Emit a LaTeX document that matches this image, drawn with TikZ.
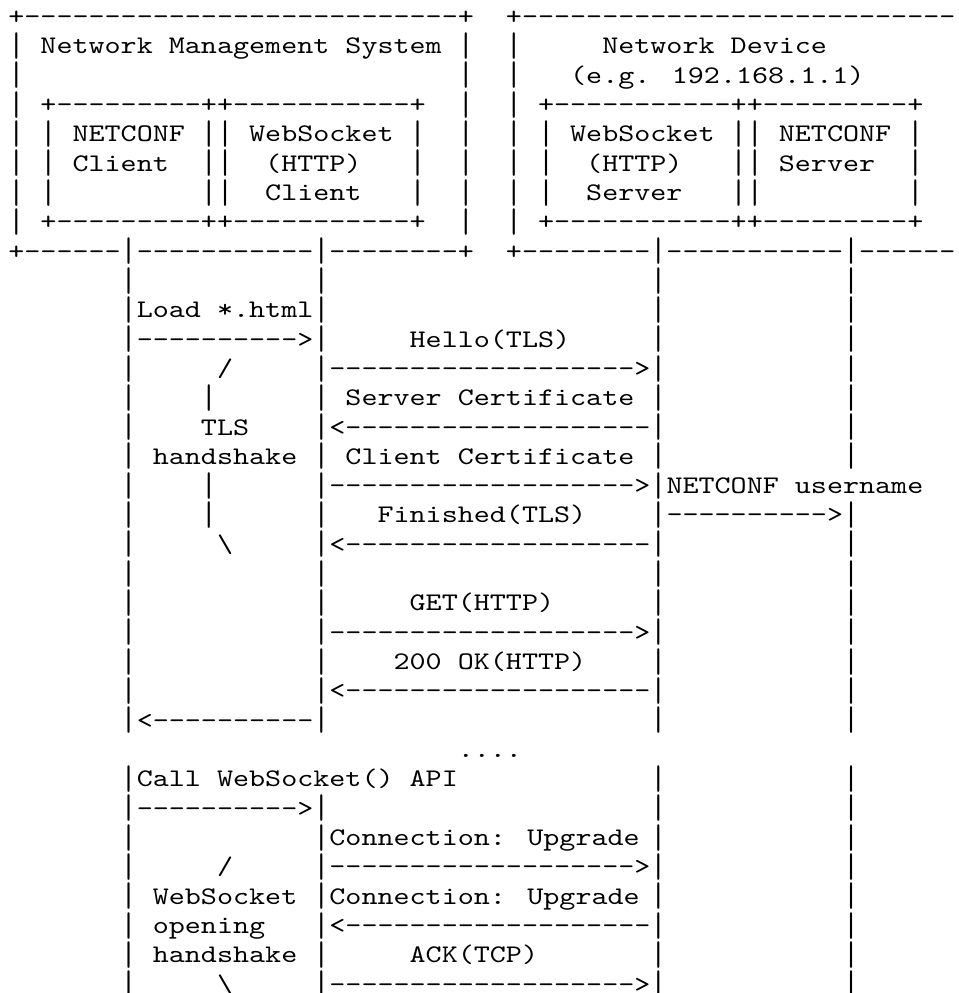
\documentclass[tikz,border=0pt]{standalone}
\usepackage{fontspec}
\usepackage{graphicx}
\newfontfamily\asciifont{lmmono10-regular.otf}[FakeStretch=1.207]
\tikzset{
	ascii/.style={anchor=base west, inner sep=0pt, outer sep=0pt, font=\asciifont\fontsize{19}{22}\selectfont}
}
% one run of characters: name, column, row, text
\newcommand{\putrun}[4]{\node[ascii] (#1) at ({#2-0.5},{#3+0.32}) {#4};}
% a bar that fills its row
\newcommand{\vbar}{\raisebox{-2pt}{\scalebox{1}[1.35]{|}}}
\begin{document}
\begin{tikzpicture}[x=12.04pt, y=-22pt]
	\useasboundingbox (-1.022,-0.511) rectangle (58.67,33.345);

	% the two boxes
	\putrun{nmsTop}{0}{0}{+---------------------------+}
	\putrun{devTop}{31}{0}{+---------------------------}
	\foreach \r in {1,...,7}
		\foreach \c in {0,28,31}
			{\putrun{f\r-\c}{\c}{\r}{\vbar}}
	\putrun{nmsName}{2}{1}{Network Management System}
	\putrun{devName}{37}{1}{Network Device}
	\putrun{devAddr}{35}{2}{(e.g. 192.168.1.1)}
	\foreach \r in {3,7} {
		\putrun{nmsIn\r}{2}{\r}{+---------++-----------+}
		\putrun{devIn\r}{33}{\r}{+-----------++---------+}
	}
	\foreach \r in {4,5,6}
		\foreach \c in {2,12,13,25,33,45,46,56}
			{\putrun{i\r-\c}{\c}{\r}{\vbar}}
	\putrun{ncClient1}{4}{4}{NETCONF}
	\putrun{ncClient2}{4}{5}{Client}
	\putrun{wsClient1}{15}{4}{WebSocket}
	\putrun{wsClient2}{16}{5}{(HTTP)}
	\putrun{wsClient3}{16}{6}{Client}
	\putrun{wsServer1}{35}{4}{WebSocket}
	\putrun{wsServer2}{36}{5}{(HTTP)}
	\putrun{wsServer3}{36}{6}{Server}
	\putrun{ncServer1}{48}{4}{NETCONF}
	\putrun{ncServer2}{48}{5}{Server}
	\putrun{nmsBot}{0}{8}{+------\vbar-----------\vbar--------+}
	\putrun{devBot}{31}{8}{+--------\vbar-----------\vbar------}

	% lifelines
	\foreach \c/\from/\to in {7/9/24, 19/9/24, 40/9/24, 52/9/15, 52/17/24, 7/26/33, 19/27/33, 40/26/33, 52/26/33}
		\foreach \r in {\from,...,\to}
			{\putrun{l\c-\r}{\c}{\r}{\vbar}}

	% page load and TLS
	\putrun{loadLabel}{8}{10}{Load *.html}
	\putrun{loadReq}{8}{11}{---------->}
	\putrun{hello}{25}{11}{Hello(TLS)}
	\putrun{tlsTop}{13}{12}{/}
	\putrun{helloArr}{20}{12}{------------------->}
	\putrun{tlsBar1}{12}{13}{\vbar}
	\putrun{srvCert}{21}{13}{Server Certificate}
	\putrun{tlsName}{12}{14}{TLS}
	\putrun{srvCertArr}{20}{14}{<-------------------}
	\putrun{tlsHs}{9}{15}{handshake}
	\putrun{cliCert}{21}{15}{Client Certificate}
	\putrun{tlsBar2}{12}{16}{\vbar}
	\putrun{cliCertArr}{20}{16}{------------------->}
	\putrun{user}{41}{16}{NETCONF username}
	\putrun{tlsBar3}{12}{17}{\vbar}
	\putrun{fin}{23}{17}{Finished(TLS)}
	\putrun{userArr}{41}{17}{---------->}
	\putrun{tlsBot}{13}{18}{\textbackslash}
	\putrun{finArr}{20}{18}{<-------------------}
	\putrun{get}{25}{20}{GET(HTTP)}
	\putrun{getArr}{20}{21}{------------------->}
	\putrun{ok}{24}{22}{200 OK(HTTP)}
	\putrun{okArr}{20}{23}{<-------------------}
	\putrun{loadResp}{8}{24}{<----------}
	\putrun{gap}{28}{25}{....}

	% websocket opening handshake
	\putrun{callApi}{8}{26}{Call WebSocket() API}
	\putrun{callArr}{8}{27}{---------->}
	\putrun{upgReq}{20}{28}{Connection: Upgrade}
	\putrun{wsTop}{13}{29}{/}
	\putrun{upgReqArr}{20}{29}{------------------->}
	\putrun{wsName}{9}{30}{WebSocket}
	\putrun{upgResp}{20}{30}{Connection: Upgrade}
	\putrun{wsOpen}{9}{31}{opening}
	\putrun{upgRespArr}{20}{31}{<-------------------}
	\putrun{wsHs}{9}{32}{handshake}
	\putrun{ack}{25}{32}{ACK(TCP)}
	\putrun{wsBot}{13}{33}{\textbackslash}
	\putrun{ackArr}{20}{33}{------------------->}
\end{tikzpicture}
\end{document}
